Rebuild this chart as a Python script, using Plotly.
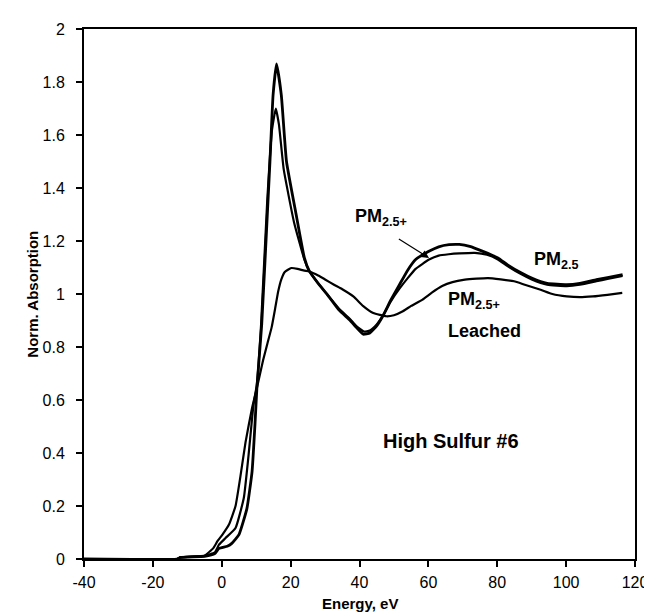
import plotly.graph_objects as go

# ---- data ----
pm25_E = [-40, -13, -12, -5, -2, -0.8, 1.6, 3, 5, 7.3, 8.8, 9.7, 10.2, 11.6, 13.5, 14, 14.9, 15.9,
          17.3, 18.8, 21.6, 24, 25.4, 28, 30.7, 34, 37.3, 39, 41.1, 43, 45, 46.9, 49, 51.6, 54, 56.3,
          60, 63, 66, 69, 72, 76, 80.2, 83, 86.9, 90, 94.5, 100.2, 104, 108.8, 112, 116.4]
pm25_V = [0, 0, 0.006, 0.01, 0.02, 0.04, 0.048, 0.06, 0.092, 0.19, 0.33, 0.52, 0.645, 0.884, 1.37, 1.5, 1.75, 1.868,
          1.75, 1.50, 1.30, 1.136, 1.087, 1.04, 0.997, 0.94, 0.90, 0.875, 0.848, 0.853, 0.88, 0.92, 0.975, 1.035, 1.09, 1.13,
          1.16, 1.178, 1.186, 1.187, 1.18, 1.16, 1.136, 1.11, 1.08, 1.06, 1.04, 1.035, 1.04, 1.054, 1.062, 1.073]

pm25p_E = [-40, -13, -12, -5, -2, -0.8, 1.1, 4, 6.4, 7.8, 9.2, 10.2, 11.4, 13.2, 14.6, 15.7, 16.6, 18, 21,
           24, 25.4, 28, 30.7, 34, 37.3, 39, 41.3, 43, 45, 46.9, 49, 51.6, 54, 56.3, 60.2, 63, 65.9, 69, 73.5,
           77, 80.2, 83, 86.9, 90, 94.5, 100.2, 104, 108.8, 112, 116.4]
pm25p_V = [0, 0, 0.006, 0.012, 0.025, 0.054, 0.079, 0.117, 0.23, 0.394, 0.58, 0.66, 0.88, 1.35, 1.62, 1.70, 1.64, 1.47, 1.27,
           1.13, 1.087, 1.04, 0.997, 0.945, 0.905, 0.88, 0.858, 0.862, 0.885, 0.92, 0.97, 1.02, 1.06, 1.095, 1.13, 1.145, 1.15, 1.153, 1.155,
           1.148, 1.13, 1.105, 1.075, 1.055, 1.035, 1.03, 1.035, 1.048, 1.057, 1.068]

leach_E = [-40, -13, -12, -5, -4.6, -2.5, -1.2, 0.2, 2.1, 4, 5.4, 6.9, 8.8, 10.2, 12, 13.3, 14.5, 15.5, 16.4, 17.3, 18.3, 20.2,
           22, 24, 25.4, 28, 30, 32.6, 35, 38.3, 41, 44, 47.8, 50, 52.6, 55, 58.3, 61, 64, 67, 70.6, 74, 77.3,
           81, 84.9, 88, 92.6, 96, 100.2, 104, 107.8, 112, 116.3]
leach_V = [0, 0, 0.006, 0.012, 0.016, 0.04, 0.068, 0.092, 0.13, 0.2, 0.31, 0.44, 0.57, 0.645, 0.75, 0.815, 0.875, 0.945, 1.01, 1.055, 1.083, 1.098,
           1.095, 1.088, 1.085, 1.07, 1.055, 1.035, 1.018, 0.99, 0.955, 0.928, 0.916, 0.92, 0.935, 0.955, 0.979, 1.005, 1.03, 1.045, 1.054, 1.058, 1.06,
           1.055, 1.048, 1.035, 1.016, 1.0, 0.991, 0.988, 0.991, 0.997, 1.004]

x_ticks = [-40, -20, 0, 20, 40, 60, 80, 100, 120]
y_ticks = [0, 0.2, 0.4, 0.6, 0.8, 1, 1.2, 1.4, 1.6, 1.8, 2]

FONT = "Arial, 'Liberation Sans', sans-serif"

fig = go.Figure()
fig.add_trace(go.Scatter(x=leach_E, y=leach_V, mode="lines", name="PM2.5+ Leached",
                         line=dict(color="black", width=2.2, shape="spline", smoothing=0.4)))
fig.add_trace(go.Scatter(x=pm25p_E, y=pm25p_V, mode="lines", name="PM2.5+",
                         line=dict(color="black", width=2.2, shape="spline", smoothing=0.4)))
fig.add_trace(go.Scatter(x=pm25_E, y=pm25_V, mode="lines", name="PM2.5",
                         line=dict(color="black", width=2.8, shape="spline", smoothing=0.4)))

lab_font = dict(family=FONT, size=18, color="black")
annotations = [
    dict(x=66.5, y=0.445, text="<b>High Sulfur #6</b>", showarrow=False,
         font=dict(family=FONT, size=20, color="black"), xanchor="center", yanchor="middle"),
    dict(x=90.0, y=1.125, text="<b>PM<sub>2.5</sub></b>", showarrow=False, font=lab_font,
         xanchor="left", yanchor="middle"),
    dict(x=65.0, y=0.975, text="<b>PM<sub>2.5+</sub></b>", showarrow=False, font=lab_font,
         xanchor="left", yanchor="middle"),
    dict(x=65.0, y=0.86, text="<b>Leached</b>", showarrow=False, font=lab_font,
         xanchor="left", yanchor="middle"),
    dict(x=38.0, y=1.29, text="<b>PM<sub>2.5+</sub></b>", showarrow=False, font=lab_font,
         xanchor="left", yanchor="middle"),
    dict(x=60.2, y=1.136, ax=51.0, ay=1.211, axref="x", ayref="y", xref="x", yref="y",
         text="", showarrow=True, arrowhead=2, arrowsize=1.3, arrowwidth=1.2, arrowcolor="black"),
    # axis titles
    dict(xref="paper", yref="paper", x=-0.095, y=0.5, text="<b>Norm. Absorption</b>", textangle=-90,
         showarrow=False, font=dict(family=FONT, size=15, color="black"), xanchor="center", yanchor="middle"),
    dict(xref="paper", yref="paper", x=0.5, y=-0.084, text="<b>Energy, eV</b>",
         showarrow=False, font=dict(family=FONT, size=15, color="black"), xanchor="center", yanchor="middle"),
]

fig.update_layout(
    width=652, height=615,
    margin=dict(l=76, r=15, t=21, b=64),
    paper_bgcolor="white", plot_bgcolor="white",
    showlegend=False,
    font=dict(family=FONT, color="black"),
    annotations=annotations,
)
fig.update_xaxes(range=[-40, 120], tickvals=x_ticks, ticktext=[str(v) for v in x_ticks],
                 showgrid=False, zeroline=False, showline=True, linecolor="black", linewidth=2,
                 mirror=True, ticks="outside", ticklen=6, tickwidth=1.5, tickcolor="black",
                 ticklabelstandoff=2,
                 tickfont=dict(family=FONT, size=16, color="black"))
fig.update_yaxes(range=[0, 2], tickvals=y_ticks, ticktext=[f"{v:g}" for v in y_ticks],
                 showgrid=False, zeroline=False, showline=True, linecolor="black", linewidth=2,
                 mirror=True, ticks="outside", ticklen=6, tickwidth=1.5, tickcolor="black",
                 ticklabelstandoff=8,
                 tickfont=dict(family=FONT, size=16, color="black"))

fig.write_html("out.html")
